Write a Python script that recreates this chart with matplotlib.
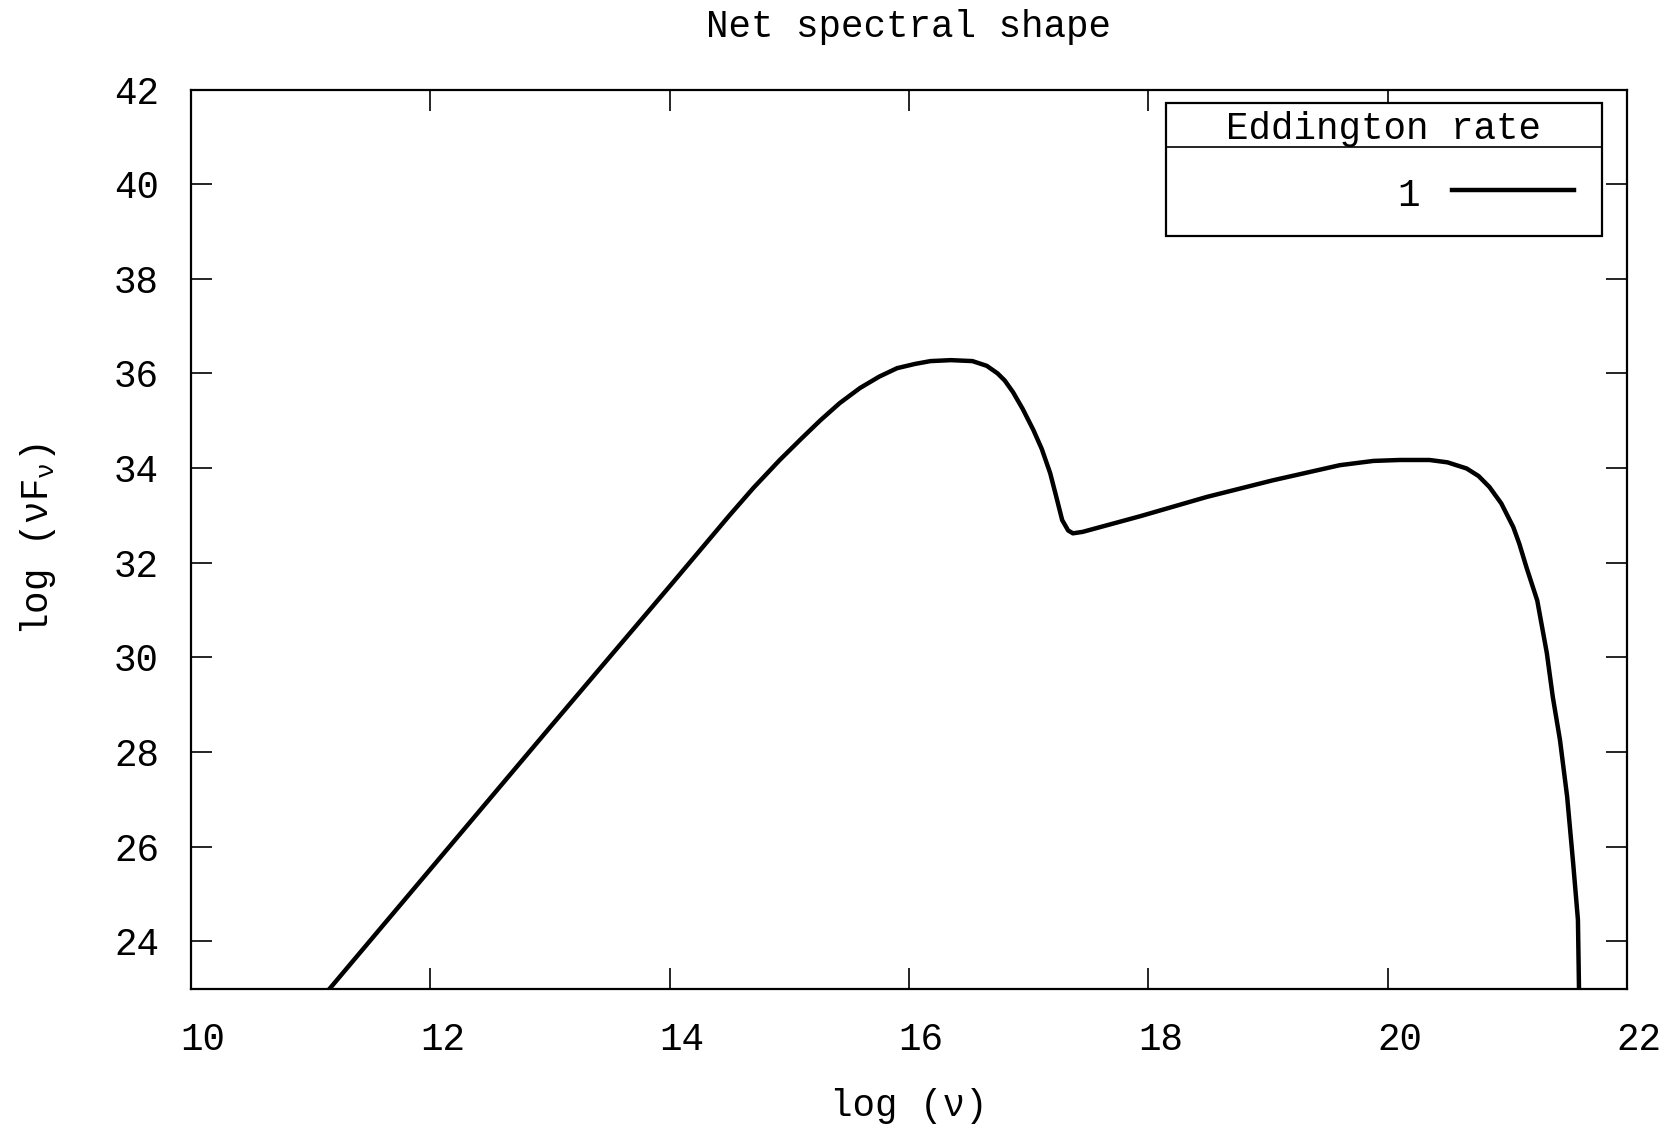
import matplotlib
matplotlib.use("Agg")
import matplotlib.pyplot as plt
import matplotlib.transforms as mtransforms
from matplotlib.lines import Line2D
from matplotlib.patches import Rectangle

# ---- data ----
log_nu = [11.16, 12.0, 13.0, 14.0, 14.5, 14.7, 14.92, 15.1, 15.26, 15.42, 15.59,
          15.75, 15.9, 16.05, 16.18, 16.35, 16.53, 16.65, 16.74, 16.8, 16.87, 16.95,
          17.04, 17.11, 17.18, 17.23, 17.28, 17.33, 17.37, 17.45, 17.93, 18.49,
          19.04, 19.6, 19.88, 20.1, 20.35, 20.5, 20.66, 20.76, 20.85, 20.95, 21.05,
          21.1, 21.16, 21.25, 21.33, 21.38, 21.44, 21.5, 21.55, 21.59, 21.6]
log_nuFnu = [23.0, 25.52, 28.52, 31.5, 33.0, 33.58, 34.17, 34.62, 35.01, 35.37, 35.69,
             35.93, 36.11, 36.2, 36.26, 36.28, 36.26, 36.16, 36.0, 35.85, 35.6, 35.25,
             34.8, 34.4, 33.89, 33.4, 32.9, 32.68, 32.62, 32.65, 32.98, 33.39,
             33.74, 34.06, 34.15, 34.17, 34.17, 34.12, 33.99, 33.83, 33.6, 33.25, 32.75,
             32.4, 31.9, 31.2, 30.09, 29.16, 28.25, 27.05, 25.65, 24.45, 22.8]
series_label = "1"
legend_title = "Eddington rate"
x_ticks = [10, 12, 14, 16, 18, 20, 22]
y_ticks = [24, 26, 28, 30, 32, 34, 36, 38, 40, 42]

FONT = "Liberation Mono"
plt.rcParams["font.family"] = [FONT, "DejaVu Sans Mono", "DejaVu Sans"]
plt.rcParams["mathtext.fontset"] = "custom"
plt.rcParams["mathtext.rm"] = FONT
plt.rcParams["mathtext.it"] = FONT
FS = 27

W, H = 1672, 1124
fig = plt.figure(figsize=(W / 100, H / 100), dpi=100)
left, right, top, bottom = 191, 1627, 89.5, 988.5
ax = fig.add_axes([left / W, 1 - bottom / H, (right - left) / W, (bottom - top) / H])

ax.plot(log_nu, log_nuFnu, color="black", lw=3.2, solid_joinstyle="round")
ax.set_xlim(10, 22)
ax.set_ylim(23, 42)
ax.set_xticks(x_ticks)
ax.set_yticks(y_ticks)
ax.tick_params(direction="in", length=15, width=1.2, top=True, right=True,
               labelsize=FS)
ax.tick_params(axis="x", pad=24)
ax.tick_params(axis="y", pad=23)
for s in ax.spines.values():
    s.set_linewidth(1.6)

off = mtransforms.ScaledTranslation(12 / 100, 0, fig.dpi_scale_trans)
for lab in ax.get_xticklabels():
    lab.set_transform(lab.get_transform() + off)

ax.set_title("Net spectral shape", fontsize=FS, pad=38)
ax.set_xlabel("log (ν)", fontsize=FS, labelpad=22)
ax.set_ylabel(r"log (νF$_{ν}$)", fontsize=FS, labelpad=40)

# legend box (gnuplot style with title row)
def ax_x(px):
    return (px - left) / (right - left)

def ax_y(py):
    return (bottom - py) / (bottom - top)

bx0, bx1 = ax_x(1166), ax_x(1602)
by_top, by_sep, by_bot = ax_y(103), ax_y(147), ax_y(236)
ax.add_patch(Rectangle((bx0, by_bot), bx1 - bx0, by_top - by_bot, transform=ax.transAxes,
                       facecolor="white", edgecolor="black", lw=1.6, zorder=5))
ax.add_line(Line2D([bx0, bx1], [by_sep, by_sep], transform=ax.transAxes,
                   color="black", lw=1.2, zorder=6))
ax.text((bx0 + bx1) / 2, ax_y(129), legend_title, transform=ax.transAxes,
        ha="center", va="center", fontsize=FS, zorder=7)
ax.text(ax_x(1420), ax_y(196), series_label, transform=ax.transAxes,
        ha="right", va="center", fontsize=FS, zorder=7)
ey = ax_y(190)
ax.add_line(Line2D([ax_x(1452), ax_x(1574)], [ey, ey],
                   transform=ax.transAxes, color="black", lw=3.2, zorder=7))

fig.savefig("out.png", dpi=100, facecolor="white")
